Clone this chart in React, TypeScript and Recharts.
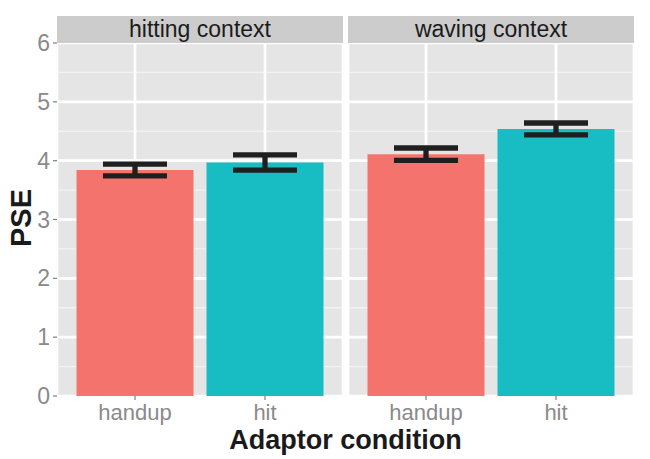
import React from "react";
import { BarChart, Bar, XAxis, YAxis, CartesianGrid, ErrorBar, Cell } from "recharts";

const panelTitles = ["hitting context", "waving context"];
const conditions = ["handup", "hit"];
const hittingPSE = [3.84, 3.97];
const hittingSE = [0.1, 0.13];
const wavingPSE = [4.11, 4.54];
const wavingSE = [0.105, 0.1];
const yTicks = [0, 1, 2, 3, 4, 5, 6];
const minorTicks = [0.5, 1.5, 2.5, 3.5, 4.5, 5.5];
const barColors = ["#F4746D", "#17BDC3"];

const FONT = "'Liberation Sans', Arial, Helvetica, sans-serif";

const buildData = (pse: number[], se: number[]) =>
  conditions.map((c, i) => ({ condition: c, pse: pse[i], se: se[i] }));

const panelsData = [buildData(hittingPSE, hittingSE), buildData(wavingPSE, wavingSE)];

const PLOT_TOP = 43;
const PLOT_BOTTOM = 396;
const PLOT_W = 286;
const CHART_H = 459;
const X_AXIS_H = 30;

function Panel({ data, showY, left }: { data: any[]; showY: boolean; left: number }) {
  const yW = showY ? 57 : 0;
  const width = yW + PLOT_W + 2;
  return (
    <div style={{ position: "absolute", left, top: 0 }}>
      <BarChart
        width={width}
        height={CHART_H}
        data={data}
        margin={{ top: PLOT_TOP, right: 2, left: 0, bottom: CHART_H - PLOT_BOTTOM - X_AXIS_H }}
        barCategoryGap="5%"
      >
        <CartesianGrid
          fill="#E5E5E5"
          stroke="#F2F2F2"
          strokeWidth={1.3}
          vertical={false}
          horizontalValues={minorTicks}
        />
        <CartesianGrid stroke="#FFFFFF" strokeWidth={2.7} />
        <XAxis
          dataKey="condition"
          height={X_AXIS_H}
          axisLine={false}
          tickLine={{ stroke: "#7F7F7F", strokeWidth: 1.2 }}
          tickSize={4}
          tickMargin={4}
          padding={{ left: 13, right: 13 }}
          tick={{ fill: "#8A8A8A", fontSize: 22, fontFamily: FONT }}
          interval={0}
        />
        <YAxis
          hide={!showY}
          width={yW}
          domain={[0, 6]}
          ticks={yTicks}
          axisLine={false}
          tickLine={{ stroke: "#7F7F7F", strokeWidth: 1.2 }}
          tickSize={4}
          tickMargin={3}
          tick={{ fill: "#8A8A8A", fontSize: 23, fontFamily: FONT }}
          allowDataOverflow
        />
        <Bar dataKey="pse" isAnimationActive={false}>
          {data.map((d, i) => (
            <Cell key={d.condition} fill={barColors[i]} />
          ))}
          <ErrorBar dataKey="se" width={32} strokeWidth={5.3} stroke="#1F1F1F" direction="y" />
        </Bar>
      </BarChart>
    </div>
  );
}

export default function App() {
  const panelLefts = [0, 348];
  const stripLefts = [57, 348];
  return (
    <div
      style={{
        position: "absolute",
        left: 0,
        top: 0,
        width: 650,
        height: 459,
        background: "#FFFFFF",
        fontFamily: FONT,
        overflow: "hidden",
      }}
    >
      {panelsData.map((d, i) => (
        <Panel key={panelTitles[i]} data={d} showY={i === 0} left={panelLefts[i]} />
      ))}
      {panelTitles.map((t, i) => (
        <div
          key={t}
          style={{
            position: "absolute",
            left: stripLefts[i],
            top: 16,
            width: PLOT_W,
            height: 27,
            lineHeight: "27px",
            background: "#CCCCCC",
            color: "#1A1A1A",
            fontSize: 23,
            textAlign: "center",
          }}
        >
          {t}
        </div>
      ))}
      <div
        style={{
          position: "absolute",
          left: 57,
          width: 577,
          top: 429,
          textAlign: "center",
          fontSize: 27,
          fontWeight: "bold",
          color: "#1A1A1A",
          lineHeight: "22px",
          height: 22,
        }}
      >
        Adaptor condition
      </div>
      <div
        style={{
          position: "absolute",
          left: 21,
          top: 218,
          transform: "translate(-50%, -50%) rotate(-90deg)",
          fontSize: 29,
          fontWeight: "bold",
          color: "#1A1A1A",
          lineHeight: "32px",
          whiteSpace: "nowrap",
        }}
      >
        PSE
      </div>
    </div>
  );
}
